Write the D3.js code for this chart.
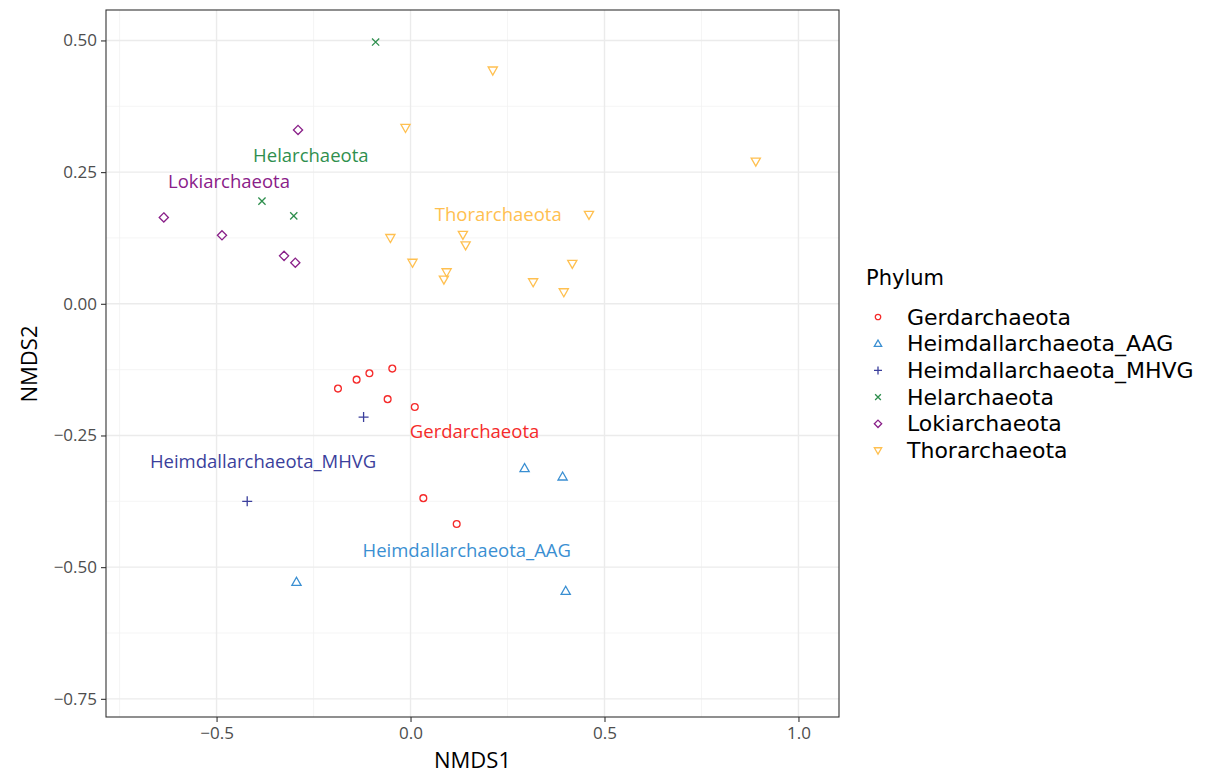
<!DOCTYPE html>
<html><head><meta charset="utf-8">
<script src="https://cdn.jsdelivr.net/npm/d3@7"></script>
<style>body{margin:0;background:#fff}svg{display:block}text{font-family:"Open Sans",sans-serif}</style>
</head><body><svg id="c" width="1222" height="776"></svg>
<script>
// ---- data ----
const phyla = ["Gerdarchaeota","Heimdallarchaeota_AAG","Heimdallarchaeota_MHVG","Helarchaeota","Lokiarchaeota","Thorarchaeota"];
const colors = ["#F52A2A","#3A8FD2","#3B3F9C","#2F8F4E","#8A2089","#FFC050"];
const shapes = ["circle","triangle","plus","times","diamond","triangleDown"];

const gerdNMDS1 = [-0.187,-0.139,-0.106,-0.047,-0.059,0.011,0.033,0.119];
const gerdNMDS2 = [-0.161,-0.144,-0.132,-0.123,-0.181,-0.196,-0.369,-0.418];
const aagNMDS1 = [0.294,0.392,-0.294,0.400];
const aagNMDS2 = [-0.312,-0.328,-0.528,-0.545];
const mhvgNMDS1 = [-0.121,-0.421];
const mhvgNMDS2 = [-0.215,-0.375];
const helNMDS1 = [-0.090,-0.383,-0.301];
const helNMDS2 = [0.497,0.195,0.167];
const lokiNMDS1 = [-0.290,-0.636,-0.486,-0.326,-0.297];
const lokiNMDS2 = [0.330,0.164,0.130,0.091,0.078];
const thorNMDS1 = [0.212,-0.013,0.890,0.460,-0.052,0.135,0.142,0.005,0.093,0.086,0.417,0.316,0.395];
const thorNMDS2 = [0.443,0.334,0.270,0.169,0.125,0.131,0.111,0.078,0.060,0.046,0.076,0.041,0.022];

const labelText = ["Gerdarchaeota","Heimdallarchaeota_AAG","Heimdallarchaeota_MHVG","Helarchaeota","Lokiarchaeota","Thorarchaeota"];
const labelNMDS1 = [0.165,0.145,-0.380,-0.257,-0.468,0.226];
const labelNMDS2 = [-0.240,-0.467,-0.297,0.283,0.235,0.172];

const xTicks = [-0.5,0,0.5,1.0];
const yTicks = [-0.75,-0.5,-0.25,0,0.25,0.5];
const xMinor = [-0.75,-0.25,0.25,0.75];
const yMinor = [-0.625,-0.375,-0.125,0.125,0.375];
const xTitle = "NMDS1", yTitle = "NMDS2", legendTitle = "Phylum";

const series = [
  [gerdNMDS1,gerdNMDS2],[aagNMDS1,aagNMDS2],[mhvgNMDS1,mhvgNMDS2],
  [helNMDS1,helNMDS2],[lokiNMDS1,lokiNMDS2],[thorNMDS1,thorNMDS2]
];

// ---- layout ----
const L=106, R=839, T=10, B=717;
const x = d3.scaleLinear().domain([-0.785,1.1045]).range([L,R]);
const y = d3.scaleLinear().domain([-0.7845,0.5578]).range([B,T]);
const svg = d3.select("#c");
const fmtMinus = s => s.replace("-","\u2212");

// grid
const g = svg.append("g");
g.selectAll(".xm").data(xMinor).join("line").attr("x1",d=>x(d)).attr("x2",d=>x(d)).attr("y1",T).attr("y2",B).attr("stroke","#f2f2f2").attr("stroke-width",0.8);
g.selectAll(".ym").data(yMinor).join("line").attr("y1",d=>y(d)).attr("y2",d=>y(d)).attr("x1",L).attr("x2",R).attr("stroke","#f2f2f2").attr("stroke-width",0.8);
g.selectAll(".xM").data(xTicks).join("line").attr("x1",d=>x(d)).attr("x2",d=>x(d)).attr("y1",T).attr("y2",B).attr("stroke","#ebebeb").attr("stroke-width",1.4);
g.selectAll(".yM").data(yTicks).join("line").attr("y1",d=>y(d)).attr("y2",d=>y(d)).attr("x1",L).attr("x2",R).attr("stroke","#ebebeb").attr("stroke-width",1.4);

// axes
const xAxis = d3.axisBottom(x).tickValues(xTicks).tickSize(5).tickPadding(5).tickFormat(d=>fmtMinus(d3.format(".1f")(d)));
const yAxis = d3.axisLeft(y).tickValues(yTicks).tickSize(5).tickPadding(4).tickFormat(d=>fmtMinus(d3.format(".2f")(d)));
const gx = svg.append("g").attr("transform",`translate(0,${B})`).call(xAxis);
const gy = svg.append("g").attr("transform",`translate(${L},0)`).call(yAxis);
[gx,gy].forEach(a=>{
  a.select(".domain").remove();
  a.selectAll(".tick line").attr("stroke","#333").attr("stroke-width",1.1);
  a.selectAll(".tick text").attr("fill","#4d4d4d").style("font-size","17px").style("font-family","Open Sans");
});

// panel border
svg.append("rect").attr("x",L).attr("y",T).attr("width",R-L).attr("height",B-T).attr("fill","none").attr("stroke","#333").attr("stroke-width",1.1);

function drawMarker(sel, shape, color, s){
  const sw = 1.3;
  if(shape==="circle"){
    sel.append("circle").attr("r",3.4*s).attr("fill","none").attr("stroke",color).attr("stroke-width",sw);
  } else if(shape==="triangle"){
    const h=4.6*s;
    sel.append("path").attr("d",`M0,${-h}L${h},${h*0.75}L${-h},${h*0.75}Z`).attr("fill","none").attr("stroke",color).attr("stroke-width",sw);
  } else if(shape==="triangleDown"){
    const h=4.6*s;
    sel.append("path").attr("d",`M0,${h}L${h},${-h*0.75}L${-h},${-h*0.75}Z`).attr("fill","none").attr("stroke",color).attr("stroke-width",sw);
  } else if(shape==="diamond"){
    const h=4.6*s;
    sel.append("path").attr("d",`M0,${-h}L${h},0L0,${h}L${-h},0Z`).attr("fill","none").attr("stroke",color).attr("stroke-width",sw);
  } else if(shape==="plus"){
    const h=5*s;
    sel.append("path").attr("d",`M${-h},0L${h},0M0,${-h}L0,${h}`).attr("stroke",color).attr("stroke-width",sw);
  } else if(shape==="times"){
    const h=3.6*s;
    sel.append("path").attr("d",`M${-h},${-h}L${h},${h}M${-h},${h}L${h},${-h}`).attr("stroke",color).attr("stroke-width",sw);
  }
}

const pts = svg.append("g");
series.forEach((sr,i)=>{
  sr[0].forEach((v,j)=>{
    const m = pts.append("g").attr("transform",`translate(${x(v)},${y(sr[1][j])})`);
    drawMarker(m, shapes[i], colors[i], 1);
  });
});

// labels
svg.append("g").selectAll("text").data(labelText).join("text")
  .attr("x",(d,i)=>x(labelNMDS1[i])).attr("y",(d,i)=>y(labelNMDS2[i]))
  .attr("text-anchor","middle").attr("dominant-baseline","central")
  .attr("fill",(d,i)=>colors[i]).style("font-size","18.5px").text(d=>d);

// axis titles
svg.append("text").attr("x",(L+R)/2).attr("y",759).attr("text-anchor","middle").attr("dominant-baseline","central").style("font-size","22px").attr("fill","#000").text(xTitle);
svg.append("text").attr("transform","translate(28,364) rotate(-90)").attr("text-anchor","middle").attr("dominant-baseline","central").style("font-size","22px").attr("fill","#000").text(yTitle);

// legend
const lg = svg.append("g");
lg.append("text").attr("x",866).attr("y",278).attr("dominant-baseline","central").style("font-family","DejaVu Sans").style("font-size","21px").text(legendTitle);
phyla.forEach((p,i)=>{
  const yy = 317 + i*26.7;
  const m = lg.append("g").attr("transform",`translate(878,${yy})`);
  drawMarker(m, shapes[i], colors[i], 0.8);
  lg.append("text").attr("x",907).attr("y",yy).attr("dominant-baseline","central").style("font-family","DejaVu Sans").style("font-size","22px").text(p);
});
</script></body></html>
